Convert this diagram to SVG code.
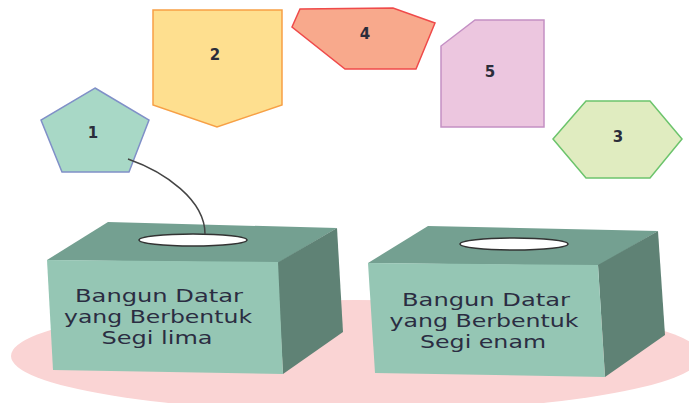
<svg xmlns="http://www.w3.org/2000/svg" width="689" height="403" viewBox="0 0 689 403">
<style>
.num{font-family:"DejaVu Sans",sans-serif;font-weight:bold;font-size:15px;fill:#2b2d3a;text-anchor:middle}
.lbl{font-family:"DejaVu Sans",sans-serif;font-size:18px;fill:#2b2d42;text-anchor:middle}
.front{fill:#95c6b4}
.top{fill:#74a091}
.side{fill:#5f8275}
.hole{fill:#ffffff;stroke:#333333;stroke-width:1.5}
.shape{stroke-width:1.5;stroke-linejoin:miter}
</style>
<rect width="689" height="403" fill="#ffffff"/>
<ellipse id="floor" cx="356" cy="356" rx="345" ry="56" fill="#fad4d4"/>

<g id="shape1">
<polygon class="shape" points="95,88 149,120 129,172 62,172 41,120" fill="#a8d8c6" stroke="#8090c8"/>
<text class="num" x="93" y="138">1</text>
</g>
<g id="shape2">
<polygon class="shape" points="153,10 282,10 282,105 217,127 153,105" fill="#fedf8f" stroke="#f7a046"/>
<text class="num" x="215" y="60">2</text>
</g>
<g id="shape4">
<polygon class="shape" points="300,9 393,8 435,23 416,69 345,69 292,27" fill="#f8a98c" stroke="#ef4a4a"/>
<text class="num" x="365" y="39">4</text>
</g>
<g id="shape5">
<polygon class="shape" points="475,20 544,20 544,127 441,127 441,46" fill="#ecc6df" stroke="#c490c4"/>
<text class="num" x="490" y="77">5</text>
</g>
<g id="shape3">
<polygon class="shape" points="586,101 650,101 682,139 650,178 586,178 553,139" fill="#e0ecc0" stroke="#6cc46c"/>
<text class="num" x="618" y="142">3</text>
</g>

<g id="box1">
<polygon class="top" points="108,222 337,228 278,263 47,260"/>
<polygon class="side" points="337,228 343,332 283,374 277,263"/>
<polygon class="front" points="47,260 278,262 283,374 53,370"/>
<ellipse class="hole" cx="193" cy="240" rx="54" ry="6"/>
<text class="lbl" x="159" y="302" textLength="168" lengthAdjust="spacingAndGlyphs">Bangun Datar</text>
<text class="lbl" x="158" y="323" textLength="188" lengthAdjust="spacingAndGlyphs">yang Berbentuk</text>
<text class="lbl" x="157" y="344" textLength="111" lengthAdjust="spacingAndGlyphs">Segi lima</text>
</g>

<g id="box2">
<polygon class="top" points="428,226 658,231 598,266 368,263"/>
<polygon class="side" points="658,231 665,335 605,377 598,265"/>
<polygon class="front" points="368,263 598,265 605,377 375,373"/>
<ellipse class="hole" cx="514" cy="244" rx="54" ry="6"/>
<text class="lbl" x="486" y="306" textLength="168" lengthAdjust="spacingAndGlyphs">Bangun Datar</text>
<text class="lbl" x="484" y="327" textLength="189" lengthAdjust="spacingAndGlyphs">yang Berbentuk</text>
<text class="lbl" x="483" y="348" textLength="126" lengthAdjust="spacingAndGlyphs">Segi enam</text>
</g>

<g id="connectors">
<path d="M128,159 C165,172 205,200 205,234" fill="none" stroke="#444444" stroke-width="1.5"/>
</g>
</svg>
